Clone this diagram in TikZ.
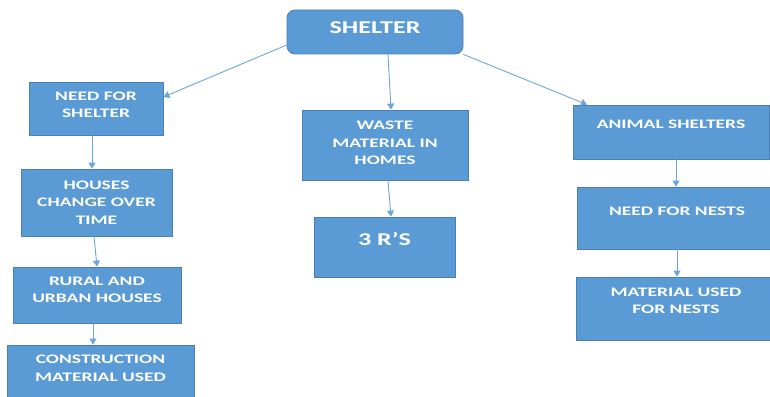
\documentclass[tikz,border=0pt]{standalone}
\usepackage{fontspec}
\setmainfont{Carlito}[FakeStretch=1.45]
\newfontfamily\smallfont{Carlito}[FakeStretch=1.5]
\usetikzlibrary{arrows.meta}
\definecolor{boxfill}{HTML}{5B9BD5}
\definecolor{boxline}{HTML}{4A7FB5}
\definecolor{arrcol}{HTML}{6BA5DA}
\tikzset{
  box/.style={draw=boxline, line width=0.8pt, fill=boxfill, inner sep=0pt},
  txt/.style={text=white, font=\smallfont\bfseries\fontsize{13}{17.5}\selectfont, align=center, inner sep=0pt},
  bigtxt/.style={text=white, font=\bfseries\fontsize{18}{20}\selectfont, align=center, inner sep=0pt},
  arr/.style={draw=arrcol, line width=0.9pt, -{Triangle[length=6pt,width=7pt]}}
}
\begin{document}
\begin{tikzpicture}[x=1pt,y=-1pt]
\useasboundingbox (0,0) rectangle (770,396);
% boxes
\node[box, rounded corners=8pt, minimum width=176pt, minimum height=44pt] (shelter) at (375,32) {};
\node[bigtxt] (shelter-t) at (375,28) {SHELTER};

\node[box, minimum width=134pt, minimum height=53pt] (need) at (96,108.5) {};
\node[txt] (need-t) at (96,105) {NEED FOR\\SHELTER};

\node[box, minimum width=151pt, minimum height=67pt] (houses) at (96.5,202.5) {};
\node[txt] (houses-t) at (96.5,202.5) {HOUSES\\CHANGE OVER\\TIME};

\node[box, minimum width=168pt, minimum height=56pt] (rural) at (97,295) {};
\node[txt] (rural-t) at (97,290) {RURAL AND\\URBAN HOUSES};

\node[box, minimum width=187pt, minimum height=60pt] (constr) at (100.5,375) {};
\node[txt] (constr-t) at (100.5,368.5) {CONSTRUCTION\\MATERIAL USED};

\node[box, minimum width=166pt, minimum height=70pt] (waste) at (385,145) {};
\node[txt] (waste-t) at (385,143) {WASTE\\MATERIAL IN\\HOMES};

\node[box, minimum width=141pt, minimum height=60pt] (threer) at (384.5,247) {};
\node[bigtxt] (threer-t) at (384.5,239) {3 R’S};

\node[box, minimum width=196pt, minimum height=54pt] (animal) at (671,132) {};
\node[txt] (animal-t) at (671,124) {ANIMAL SHELTERS};

\node[box, minimum width=200pt, minimum height=62pt] (nests) at (677,218) {};
\node[txt] (nests-t) at (677,211) {NEED FOR NESTS};

\node[box, minimum width=200pt, minimum height=63pt] (material) at (676,308.5) {};
\node[txt] (material-t) at (676,301) {MATERIAL USED\\FOR NESTS};

% connectors
\draw[arr] ([yshift=-13pt]shelter.west) -- ([yshift=11.5pt]need.east);
\draw[arr] ([xshift=13pt]shelter.south) -- ([xshift=6pt]waste.north);
\draw[arr] (shelter.south east) -- ([xshift=-84pt]animal.north);
\draw[arr] ([xshift=-4pt]need.south) -- ([xshift=-4.5pt]houses.north);
\draw[arr] ([xshift=-2.5pt]houses.south) -- (rural.north);
\draw[arr] ([xshift=-4pt]rural.south) -- ([xshift=-7.5pt]constr.north);
\draw[arr] ([xshift=3pt]waste.south) -- ([xshift=6.5pt]threer.north);
\draw[arr] ([xshift=5pt]animal.south) -- ([xshift=-1pt]nests.north);
\draw[arr] (nests.south) -- ([xshift=1pt]material.north);
\end{tikzpicture}
\end{document}
